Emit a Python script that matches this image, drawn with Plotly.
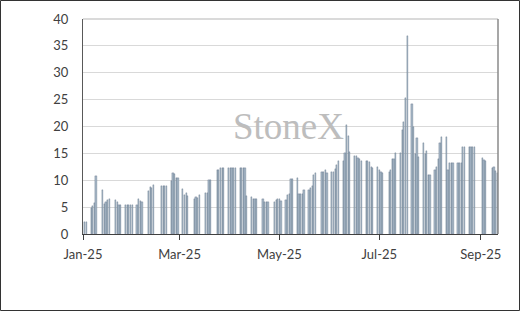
import plotly.graph_objects as go

dates = [
    "2025-01-02", "2025-01-03",
    "2025-01-06", "2025-01-07", "2025-01-08", "2025-01-09",
    "2025-01-13", "2025-01-14", "2025-01-15", "2025-01-16", "2025-01-17",
    "2025-01-21", "2025-01-22", "2025-01-23", "2025-01-24",
    "2025-01-27", "2025-01-28", "2025-01-29", "2025-01-30", "2025-01-31",
    "2025-02-03", "2025-02-04", "2025-02-05", "2025-02-06",
    "2025-02-10", "2025-02-11", "2025-02-12", "2025-02-13",
    "2025-02-18", "2025-02-19", "2025-02-20", "2025-02-21",
    "2025-02-24", "2025-02-25", "2025-02-26", "2025-02-27", "2025-02-28",
    "2025-03-03", "2025-03-04", "2025-03-05", "2025-03-06",
    "2025-03-10", "2025-03-11", "2025-03-12", "2025-03-13",
    "2025-03-17", "2025-03-18", "2025-03-19", "2025-03-20",
    "2025-03-24", "2025-03-25", "2025-03-26", "2025-03-27", "2025-03-28",
    "2025-03-31", "2025-04-01", "2025-04-02", "2025-04-03", "2025-04-04",
    "2025-04-07", "2025-04-08", "2025-04-09", "2025-04-10", "2025-04-11",
    "2025-04-14", "2025-04-15", "2025-04-16", "2025-04-17",
    "2025-04-21", "2025-04-22", "2025-04-23", "2025-04-24",
    "2025-04-28", "2025-04-29", "2025-04-30", "2025-05-01", "2025-05-02",
    "2025-05-05", "2025-05-06", "2025-05-07", "2025-05-08", "2025-05-09",
    "2025-05-12", "2025-05-13", "2025-05-14", "2025-05-15", "2025-05-16",
    "2025-05-19", "2025-05-20", "2025-05-21", "2025-05-22", "2025-05-23",
    "2025-05-27", "2025-05-28", "2025-05-29", "2025-05-30",
    "2025-06-02", "2025-06-03", "2025-06-04", "2025-06-05", "2025-06-06",
    "2025-06-09", "2025-06-10", "2025-06-11", "2025-06-12", "2025-06-13",
    "2025-06-16", "2025-06-17", "2025-06-18", "2025-06-19", "2025-06-20",
    "2025-06-23", "2025-06-24", "2025-06-25", "2025-06-26", "2025-06-27",
    "2025-06-30", "2025-07-01", "2025-07-02", "2025-07-03",
    "2025-07-07", "2025-07-08", "2025-07-09", "2025-07-10", "2025-07-11",
    "2025-07-14", "2025-07-15", "2025-07-16", "2025-07-17", "2025-07-18",
    "2025-07-21", "2025-07-22", "2025-07-23", "2025-07-24", "2025-07-25",
    "2025-07-28", "2025-07-29", "2025-07-30", "2025-07-31", "2025-08-01",
    "2025-08-04", "2025-08-05", "2025-08-06", "2025-08-07", "2025-08-08",
    "2025-08-11", "2025-08-12", "2025-08-13", "2025-08-14", "2025-08-15",
    "2025-08-18", "2025-08-19", "2025-08-20", "2025-08-21", "2025-08-22",
    "2025-08-25", "2025-08-26", "2025-08-27", "2025-08-28",
    "2025-09-02", "2025-09-03", "2025-09-04",
    "2025-09-08", "2025-09-09", "2025-09-10", "2025-09-11",
]

values = [
    2.2, 2.2,
    4.8, 5.2, 5.8, 10.8,
    8.1, 5.5, 5.9, 6.3, 6.5,
    6.3, 6.0, 5.4, 5.4,
    5.4, 5.4, 5.4, 5.4, 5.4,
    5.4, 6.5, 6.1, 6.0,
    8.0, 8.8, 8.6, 9.1,
    9.0, 9.0, 9.0, 9.0,
    9.9, 11.4, 11.2, 10.4, 10.4,
    8.3, 7.2, 7.7, 7.0,
    6.5, 6.8, 6.7, 7.3,
    7.6, 7.7, 10.0, 10.0,
    11.9, 12.0, 12.2, 12.2, 12.2,
    12.2, 12.2, 12.2, 12.2, 12.2,
    12.2, 12.2, 12.2, 12.2, 7.0,
    6.8, 6.5, 6.5, 6.5,
    6.6, 5.9, 5.9, 6.0,
    6.0, 6.3, 6.5, 6.5, 6.2,
    6.4, 7.2, 7.4, 10.3, 10.3,
    10.4, 7.5, 7.4, 7.4, 8.1,
    8.2, 8.5, 9.0, 11.0, 11.4,
    11.5, 11.6, 11.9, 11.3,
    11.6, 11.6, 12.1, 12.9, 13.6,
    13.6, 15.0, 20.2, 18.3, 15.3,
    14.5, 14.5, 14.1, 14.0, 13.6,
    13.6, 13.5, 13.4, 12.4, 12.3,
    12.4, 11.9, 11.5, 11.3,
    11.6, 11.9, 14.0, 14.0, 15.1,
    15.1, 19.3, 20.9, 25.3, 36.8,
    24.2, 20.0, 14.9, 17.8, 14.4,
    17.0, 14.8, 15.5, 11.0, 11.0,
    12.0, 12.5, 14.0, 17.0, 18.0,
    18.0, 12.0, 13.3, 13.3, 13.3,
    13.3, 13.3, 13.3, 16.2, 16.2,
    16.2, 16.2, 16.2, 16.2,
    14.1, 13.7, 13.6,
    12.2, 12.5, 11.8, 11.3,
]

y_ticks = [0, 5, 10, 15, 20, 25, 30, 35, 40]
watermark = "StoneX"

DAY_MS = 86400000

fig = go.Figure()
fig.add_trace(go.Bar(
    x=dates, y=values,
    width=[DAY_MS * 0.75] * len(dates),
    marker=dict(color="#a6b6c6", line=dict(color="#4a5f77", width=0.3)),
    showlegend=False,
))

L, R, T, B = 83, 22, 19, 77
W, H = 520, 311
pw, ph = W - L - R, H - T - B

fig.update_layout(
    width=W, height=H,
    margin=dict(l=L, r=R, t=T, b=B, pad=0),
    paper_bgcolor="white", plot_bgcolor="white",
    font=dict(family="Lato", size=13, color="#404040"),
    bargap=0,
    xaxis=dict(
        type="date",
        range=["2025-01-01 00:00", "2025-09-11 12:00"],
        tickformat="%b-%y", dtick="M2", tick0="2025-01-01",
        ticks="outside", ticklen=5, tickcolor="#404040", tickwidth=1,
        showline=True, linecolor="#404040", linewidth=1,
        showgrid=False, zeroline=False,
        ticklabelstandoff=3,
    ),
    yaxis=dict(
        range=[0, 40], tickvals=y_ticks,
        showgrid=True, gridcolor="#d9d9d9", gridwidth=1,
        showline=True, linecolor="#595959", linewidth=1,
        zeroline=False, ticks="", ticklabelstandoff=11,
    ),
    annotations=[dict(
        text=watermark, xref="paper", yref="paper", x=0.494, y=0.50,
        showarrow=False, font=dict(family="Liberation Serif", size=37, color="#bdbdbd"),
        xanchor="center", yanchor="middle",
    )],
    shapes=[
        dict(type="line", xref="paper", yref="paper", x0=0, x1=1, y0=1, y1=1,
             line=dict(color="#b5b5b5", width=1)),
        dict(type="line", xref="paper", yref="paper", x0=1, x1=1, y0=0, y1=1,
             line=dict(color="#8a8a8a", width=1.5)),
        dict(type="rect", xref="paper", yref="paper",
             x0=(0.5 - L) / pw, x1=(W - 0.5 - L) / pw,
             y0=(T + ph - (H - 0.5)) / ph, y1=(T + ph - 0.5) / ph,
             line=dict(color="#333333", width=1)),
    ],
)

fig.write_html("out.html")
